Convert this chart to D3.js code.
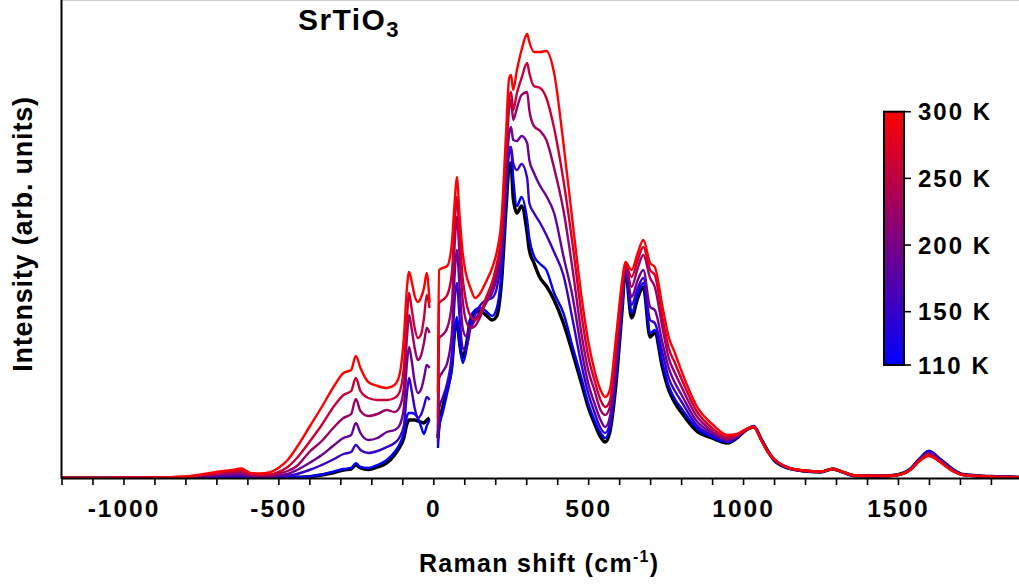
<!DOCTYPE html>
<html>
<head>
<meta charset="utf-8">
<script src="https://cdn.jsdelivr.net/npm/d3@7"></script>
<style>
  html, body { margin: 0; padding: 0; background: #fff; }
  svg { display: block; font-family: "Liberation Sans", Arial, Helvetica, sans-serif; font-weight: bold; }
</style>
</head>
<body>
<svg id="chart" width="1019" height="584"></svg>
<script>
// ---------- DATA (intensity in arbitrary counts) ----------
const shiftNeg = [-1200, -900, -800, -750, -700, -650, -620, -605, -590, -560, -530, -500, -470, -440, -400, -360, -320, -290, -265, -250, -235, -210, -180, -150, -125, -110, -95, -85, -78, -70, -60, -50, -40, -30, -21, -12];
const shiftPos = [15, 19, 30, 45, 60, 70, 76, 85, 95, 105, 120, 135, 150, 170, 190, 205, 220, 235, 245, 251, 258, 270, 285, 303, 310, 325, 345, 365, 390, 420, 450, 480, 500, 520, 540, 555, 570, 590, 610, 620, 640, 660, 678, 700, 715, 740, 760, 780, 800, 850, 900, 950, 980, 1010, 1035, 1060, 1080, 1100, 1150, 1200, 1250, 1290, 1320, 1360, 1450, 1500, 1540, 1570, 1600, 1635, 1675, 1710, 1800, 1900];

const baseNeg = [0, 0, 1, 2, 4, 5, 6, 5, 3, 2, 2, 3, 5, 8, 13, 30, 55, 80, 90, 130, 100, 85, 110, 150, 230, 300, 400, 540, 580, 580, 580, 570, 560, 550, 580, 600];
const basePos = [400, 550, 700, 900, 1120, 1500, 1570, 1350, 1200, 1300,
  1580, 1650, 1670, 1630, 1580, 1620, 1950, 2700, 3120, 3150,
  2800, 2650, 2720, 2450, 2280, 2150, 2000, 1920, 1780, 1550,
  1250, 930, 710, 550, 410, 360, 460, 950, 1700, 2090,
  1600, 1800, 1910, 1410, 1450, 1100, 880, 750, 660, 470,
  400, 350, 400, 480, 510, 380, 270, 180, 95, 70,
  60, 90, 60, 23, 20, 33, 90, 190, 265, 190,
  90, 35, 15, 8];

const t110Neg = [0, 0, 1, 3, 5, 6, 7, 6, 4, 3, 3, 4, 6, 10, 15, 35, 65, 90, 100, 147, 110, 100, 130, 180, 260, 330, 450, 620, 650, 650, 640, 600, 520, 440, 520, 580];
const t110Pos = [300, 500, 650, 850, 1100, 1500, 1610, 1350, 1150, 1250,
  1600, 1680, 1700, 1670, 1620, 1700, 2050, 2800, 3250, 3280,
  3000, 2720, 2810, 2580, 2400, 2220, 2140, 2080, 1850, 1650,
  1310, 980, 750, 580, 450, 400, 500, 1000, 1730, 2100,
  1650, 1840, 1950, 1450, 1480, 1150, 920, 790, 700, 500,
  410, 360, 400, 480, 520, 380, 270, 180, 95, 70,
  60, 90, 60, 23, 20, 33, 90, 190, 270, 190,
  90, 35, 15, 8];

const t150Neg = [0, 1, 3, 8, 12, 15, 18, 15, 10, 8, 8, 12, 20, 40, 80, 130, 190, 240, 260, 330, 280, 250, 270, 310, 350, 400, 520, 850, 1000, 880, 700, 600, 630, 720, 810, 780];
const t150Pos = [350, 700, 800, 950, 1250, 1820, 1950, 1600, 1300, 1280,
  1500, 1630, 1720, 1780, 1800, 1900, 2200, 2900, 3300, 3310,
  3150, 3080, 3140, 3000, 2750, 2650, 2550, 2430, 2260, 2030,
  1580, 1110, 850, 660, 500, 450, 550, 1080, 1780, 2110,
  1730, 1900, 2000, 1580, 1550, 1250, 1000, 870, 770, 530,
  430, 370, 410, 480, 510, 380, 260, 180, 97, 70,
  61, 90, 60, 23, 20, 32, 88, 188, 260, 180,
  86, 34, 15, 8];

const t190Neg = [0, 2, 6, 15, 25, 30, 35, 30, 20, 15, 15, 25, 40, 80, 150, 230, 330, 400, 430, 550, 450, 380, 400, 460, 480, 520, 700, 1150, 1310, 1180, 960, 850, 880, 1000, 1130, 1100];
const t190Pos = [400, 1000, 1060, 1150, 1450, 2080, 2280, 1900, 1500, 1420,
  1500, 1580, 1650, 1750, 1850, 2000, 2300, 3000, 3450, 3510,
  3380, 3370, 3420, 3350, 3180, 3050, 2920, 2820, 2650, 2220,
  1810, 1250, 950, 750, 580, 510, 610, 1150, 1830, 2120,
  1810, 1980, 2080, 1710, 1680, 1350, 1100, 950, 840, 570,
  450, 380, 410, 480, 510, 370, 260, 190, 98, 71,
  62, 90, 61, 24, 20, 32, 86, 185, 250, 175,
  82, 33, 14, 8];

const t225Neg = [0, 3, 10, 25, 40, 50, 55, 45, 30, 25, 25, 45, 70, 120, 260, 370, 510, 600, 640, 790, 670, 620, 640, 680, 660, 700, 900, 1400, 1630, 1500, 1300, 1180, 1220, 1350, 1500, 1450];
const t225Pos = [500, 1400, 1430, 1500, 1750, 2380, 2610, 2220, 1780, 1580,
  1500, 1520, 1600, 1760, 1900, 2070, 2380, 3200, 3700, 3780,
  3580, 3700, 3830, 3860, 3680, 3520, 3470, 3380, 3100, 2680,
  2080, 1410, 1080, 880, 680, 630, 710, 1250, 1880, 2130,
  1910, 2100, 2230, 2000, 1910, 1500, 1200, 1050, 920, 620,
  470, 390, 420, 480, 510, 370, 260, 190, 99, 72,
  63, 90, 62, 24, 20, 31, 84, 180, 240, 170,
  78, 32, 14, 8];

const t260Neg = [0, 4, 12, 30, 50, 65, 75, 60, 40, 35, 35, 60, 110, 200, 360, 530, 720, 830, 870, 1000, 870, 800, 780, 780, 800, 850, 1100, 1600, 1850, 1700, 1500, 1400, 1430, 1600, 1830, 1700];
const t260Pos = [600, 1750, 1780, 1830, 2050, 2580, 2810, 2420, 2000, 1780,
  1620, 1580, 1630, 1800, 1960, 2140, 2450, 3300, 3800, 3860,
  3680, 3850, 4000, 4150, 4050, 3920, 3900, 3800, 3500, 2980,
  2330, 1600, 1220, 980, 780, 710, 770, 1330, 1930, 2140,
  2010, 2180, 2310, 2080, 2030, 1600, 1300, 1150, 1000, 670,
  500, 410, 430, 490, 510, 370, 260, 190, 100, 73,
  64, 90, 63, 25, 20, 31, 82, 175, 230, 165,
  74, 31, 13, 8];

const t300Neg = [0, 5, 15, 35, 60, 80, 95, 75, 50, 45, 55, 100, 180, 310, 510, 710, 920, 1050, 1080, 1220, 1100, 960, 920, 900, 930, 1020, 1400, 1900, 2060, 1970, 1820, 1760, 1800, 1900, 2050, 1750];
const t300Pos = [850, 2080, 2100, 2120, 2350, 2800, 3010, 2620, 2250, 2050,
  1900, 1800, 1840, 1960, 2100, 2260, 2580, 3450, 4000, 4030,
  3880, 4080, 4280, 4440, 4360, 4260, 4260, 4270, 4050, 3350,
  2550, 1780, 1370, 1080, 880, 810, 880, 1410, 1980, 2160,
  2080, 2250, 2380, 2150, 2110, 1710, 1410, 1250, 1080, 720,
  540, 430, 440, 490, 510, 370, 260, 190, 100, 75,
  65, 90, 65, 25, 20, 30, 80, 170, 220, 160,
  70, 30, 13, 8];

const xTicks = [-1200, -1100, -1000, -900, -800, -700, -600, -500, -400, -300, -200, -100, 0, 100, 200, 300, 400, 500, 600, 700, 800, 900, 1000, 1100, 1200, 1300, 1400, 1500, 1600, 1700, 1800, 1900];
const xLabels = [-1000, -500, 0, 500, 1000, 1500];
const cbTicks = [110, 150, 200, 250, 300];
const tempRange = [110, 300];

// series: black reference curve first, then 110 K ... 300 K
const series = [
  { temp: null, neg: baseNeg, pos: basePos },
  { temp: 110, neg: t110Neg, pos: t110Pos },
  { temp: 150, neg: t150Neg, pos: t150Pos },
  { temp: 190, neg: t190Neg, pos: t190Pos },
  { temp: 225, neg: t225Neg, pos: t225Pos },
  { temp: 260, neg: t260Neg, pos: t260Pos },
  { temp: 300, neg: t300Neg, pos: t300Pos }
];

// ---------- CHART ----------
const svg = d3.select("#chart");
const plotL = 61.5, plotR = 1021.9, plotT = 0, plotB = 478;

const x = d3.scaleLinear().domain([-1200, 1900]).range([plotL, plotR]);
const y = d3.scaleLinear().domain([0, 4780]).range([plotB, plotT]);
const tScale = d3.scaleLinear().domain(tempRange).range([365, 111.7]);
const colorOf = d3.scaleLinear().domain(tempRange).range(["#0000ff", "#ff0000"]).interpolate(d3.interpolateRgb);

// top frame line (light)
svg.append("line")
  .attr("x1", plotL).attr("x2", 1019).attr("y1", 0.5).attr("y2", 0.5)
  .attr("stroke", "#cfcfcf").attr("stroke-width", 1);

svg.append("defs").append("clipPath").attr("id", "clip")
  .append("rect").attr("x", plotL).attr("y", 0).attr("width", 1019 - plotL).attr("height", plotB);

const line = d3.line()
  .x(d => x(d[0])).y(d => y(d[1]))
  .curve(d3.curveMonotoneX);

const g = svg.append("g").attr("clip-path", "url(#clip)");
series.forEach(s => {
  const col = s.temp === null ? "#000" : colorOf(s.temp);
  const w = s.temp === null ? 3.4 : 2.4;
  [[shiftNeg, s.neg], [shiftPos, s.pos]].forEach(([xs, ys]) => {
    g.append("path")
      .datum(xs.map((v, i) => [v, ys[i]]))
      .attr("d", line)
      .attr("fill", "none")
      .attr("stroke", col)
      .attr("stroke-width", w)
      .attr("stroke-linejoin", "round");
  });
});

// x axis
const xAxis = d3.axisBottom(x)
  .tickValues(xTicks)
  .tickSize(7)
  .tickSizeOuter(0)
  .tickPadding(15)
  .tickFormat(d => xLabels.includes(d) ? String(d) : "");
const gx = svg.append("g").attr("transform", `translate(0,${plotB})`).call(xAxis);
gx.select(".domain").attr("stroke", "#000").attr("stroke-width", 2);
gx.selectAll(".tick line").attr("stroke", "#000").attr("stroke-width", 1.6);
gx.selectAll(".tick text")
  .attr("fill", "#000")
  .style("font-family", '"Liberation Sans", Arial, sans-serif')
  .style("font-weight", "bold")
  .style("font-size", "24.5px")
  .style("letter-spacing", "2px");

// y axis line (no ticks)
svg.append("line")
  .attr("x1", plotL).attr("x2", plotL).attr("y1", 0).attr("y2", plotB + 1)
  .attr("stroke", "#000").attr("stroke-width", 2);

// axis titles
const xt = svg.append("text")
  .attr("x", 419).attr("y", 572)
  .style("font-size", "25px").style("letter-spacing", "1.3px")
  .attr("fill", "#000");
xt.append("tspan").text("Raman shift (cm");
xt.append("tspan").attr("dy", -10).style("font-size", "16px").text("-1");
xt.append("tspan").attr("dy", 10).text(")");

svg.append("text")
  .attr("transform", "translate(32,234) rotate(-90)")
  .attr("text-anchor", "middle")
  .style("font-size", "27px").style("letter-spacing", "0.8px")
  .attr("fill", "#000")
  .text("Intensity (arb. units)");

// title
const tt = svg.append("text")
  .attr("x", 298).attr("y", 30)
  .style("font-size", "30px").style("letter-spacing", "1.4px")
  .attr("fill", "#000");
tt.append("tspan").text("SrTiO");
tt.append("tspan").attr("dy", 7).style("font-size", "22px").text("3");

// colour bar
const grad = svg.select("defs").append("linearGradient")
  .attr("id", "cbGrad").attr("x1", 0).attr("x2", 0).attr("y1", 1).attr("y2", 0);
d3.range(0, 1.0001, 0.1).forEach(t => {
  grad.append("stop").attr("offset", t)
    .attr("stop-color", colorOf(tempRange[0] + t * (tempRange[1] - tempRange[0])));
});
const cbX = 884, cbW = 20;
svg.append("rect")
  .attr("x", cbX).attr("y", tScale(tempRange[1]))
  .attr("width", cbW).attr("height", tScale(tempRange[0]) - tScale(tempRange[1]))
  .attr("fill", "url(#cbGrad)")
  .attr("stroke", "#000").attr("stroke-width", 2);
const cb = svg.append("g");
cbTicks.forEach(t => {
  cb.append("line")
    .attr("x1", cbX + cbW).attr("x2", cbX + cbW + 7)
    .attr("y1", tScale(t)).attr("y2", tScale(t))
    .attr("stroke", "#000").attr("stroke-width", 1.6);
  cb.append("text")
    .attr("x", 918).attr("y", tScale(t)).attr("dy", "0.36em")
    .style("font-size", "24px").style("letter-spacing", "2px")
    .attr("fill", "#000")
    .text(t + " K");
});
</script>
</body>
</html>
